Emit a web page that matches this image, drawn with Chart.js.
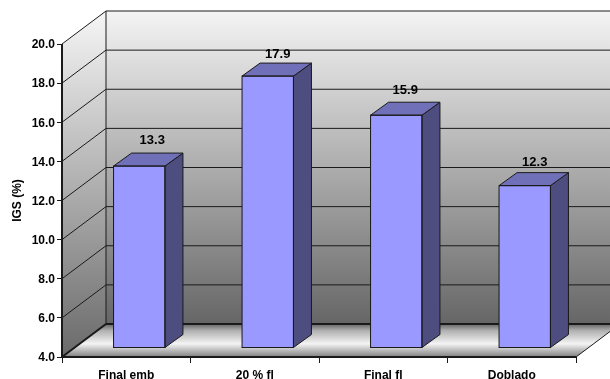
<!DOCTYPE html>
<html>
<head>
<meta charset="utf-8">
<script src="https://cdn.jsdelivr.net/npm/chart.js@4"></script>
<style>
  html, body { margin: 0; padding: 0; background: #fff; }
  canvas { display: block; }
</style>
</head>
<body>
<canvas id="igs" width="610" height="379"></canvas>
<script>
let categories = ["Final emb", "20 % fl", "Final fl", "Doblado"];
let igsValues = [13.3, 17.9, 15.9, 12.3];
let yMin = 4, yMax = 20, yStep = 2;

// depth of the box behind the axes, and how far the bars sit inside it
let depthX = 44, depthY = -33;
let barDX = 13, barDY = -9;
let ink = "#1a1a1a";

// the value labels were not all placed the same distance from their bars
let labelNudge = [[3, -2], [0, 2], [-1, -1], [0, 0]];

function lineSeg(ctx, x1, y1, x2, y2) {
  ctx.beginPath();
  ctx.moveTo(x1, y1);
  ctx.lineTo(x2, y2);
  ctx.stroke();
}

function poly(ctx, pts, fill, stroke) {
  ctx.beginPath();
  pts.forEach((p, i) => (i ? ctx.lineTo(p[0], p[1]) : ctx.moveTo(p[0], p[1])));
  ctx.closePath();
  ctx.fillStyle = fill;
  ctx.fill();
  if (stroke) {
    ctx.strokeStyle = stroke;
    ctx.stroke();
  }
}

// back wall, side wall, floor and their grid lines
let boxPlugin = {
  id: "box",
  beforeDatasetsDraw(chart) {
    let ctx = chart.ctx, a = chart.chartArea, y = chart.scales.y;
    let L = a.left, R = a.right, T = a.top, B = a.bottom;
    let bl = L + depthX, br = R + depthX, bt = T + depthY, bb = B + depthY;

    ctx.save();
    ctx.lineWidth = 1;

    let wall = ctx.createLinearGradient(0, bt, 0, bb);
    wall.addColorStop(0, "#f4f4f4");
    wall.addColorStop(1, "#666");
    poly(ctx, [[bl, bt], [br, bt], [br, bb], [bl, bb]], wall);

    let side = ctx.createLinearGradient(0, bt, 0, B);
    side.addColorStop(0, "#f6f6f6");
    side.addColorStop(1, "#6a6a6a");
    poly(ctx, [[L, T], [bl, bt], [bl, bb], [L, B]], side);

    let floor = ctx.createLinearGradient(0, bb, 0, B);
    floor.addColorStop(0, "#666");
    floor.addColorStop(0.2, "#b0b0b0");
    floor.addColorStop(0.6, "#f4f4f4");
    floor.addColorStop(1, "#808080");
    poly(ctx, [[L, B], [bl, bb], [br, bb], [R, B]], floor);

    ctx.strokeStyle = ink;
    y.ticks.forEach((t) => {
      let py = y.getPixelForValue(t.value);
      lineSeg(ctx, L, py, bl, py + depthY);
      lineSeg(ctx, bl, py + depthY, br, py + depthY);
    });

    lineSeg(ctx, bl, bt, bl, bb);
    lineSeg(ctx, R, B, br, bb);
    ctx.lineWidth = 2;
    lineSeg(ctx, bl, bb, br, bb);
    lineSeg(ctx, L, B, bl, bb);
    lineSeg(ctx, L, T, L, B);
    lineSeg(ctx, L, B, R, B);
    ctx.restore();

    // bars stand inside the box, so push them back for the dataset pass
    ctx.save();
    ctx.translate(barDX, barDY);
  },
  afterDatasetsDraw(chart) {
    let ctx = chart.ctx;
    ctx.restore();

    // side and top of every bar, plus the value above it
    let bars = chart.getDatasetMeta(0).data;
    ctx.save();
    ctx.lineWidth = 1;
    bars.forEach((bar, i) => {
      let l = bar.x - bar.width / 2 + barDX, r = bar.x + bar.width / 2 + barDX;
      let t = bar.y + barDY, b = bar.base + barDY;
      let dx = 18, dy = -13;
      poly(ctx, [[r, t], [r + dx, t + dy], [r + dx, b + dy], [r, b]], "#4d4d80", ink);
      poly(ctx, [[l, t], [l + dx, t + dy], [r + dx, t + dy], [r, t]], "#7070b8", ink);

      // crisp outline round the front face
      ctx.strokeStyle = ink;
      ctx.strokeRect(l, t, r - l, b - t);

      ctx.fillStyle = "#000";
      ctx.font = "bold 13px 'Liberation Sans'";
      ctx.textAlign = "center";
      ctx.textBaseline = "middle";
      ctx.fillText(
        igsValues[i].toFixed(1),
        bar.x + barDX + 10 + labelNudge[i][0],
        t + dy - 10.5 + labelNudge[i][1]
      );
    });
    ctx.restore();
  }
};

new Chart(document.getElementById("igs"), {
  type: "bar",
  data: {
    labels: categories,
    datasets: [
      {
        label: "IGS (%)",
        data: igsValues,
        base: yMin,
        clip: false,
        backgroundColor: "#9999ff",
        borderWidth: 0,
        barPercentage: 0.4,
        categoryPercentage: 1
      }
    ]
  },
  plugins: [boxPlugin],
  options: {
    responsive: false,
    animation: false,
    layout: { padding: { top: 44, right: 34, left: 0, bottom: 0 } },
    plugins: { legend: { display: false }, tooltip: { enabled: false } },
    scales: {
      x: {
        afterFit(s) { s.height = 22; },
        grid: { drawOnChartArea: false, tickLength: 6, color: ink },
        border: { display: false },
        ticks: {
          color: "#000",
          maxRotation: 0,
          padding: 5,
          font: { family: "Liberation Sans", size: 12, weight: "bold" }
        }
      },
      y: {
        min: yMin,
        max: yMax,
        afterFit(s) { s.width = 62; },
        grid: { drawOnChartArea: false, tickLength: 5, color: ink },
        border: { display: false },
        ticks: {
          stepSize: yStep,
          color: "#000",
          padding: 2,
          labelOffset: 1,
          callback: (v) => v.toFixed(1),
          font: { family: "Liberation Sans", size: 12, weight: "bold" }
        },
        title: {
          display: true,
          text: "IGS (%)",
          color: "#000",
          padding: { top: 10, bottom: 0 },
          font: { family: "Liberation Sans", size: 12, weight: "bold" }
        }
      }
    }
  }
});
</script>
</body>
</html>
